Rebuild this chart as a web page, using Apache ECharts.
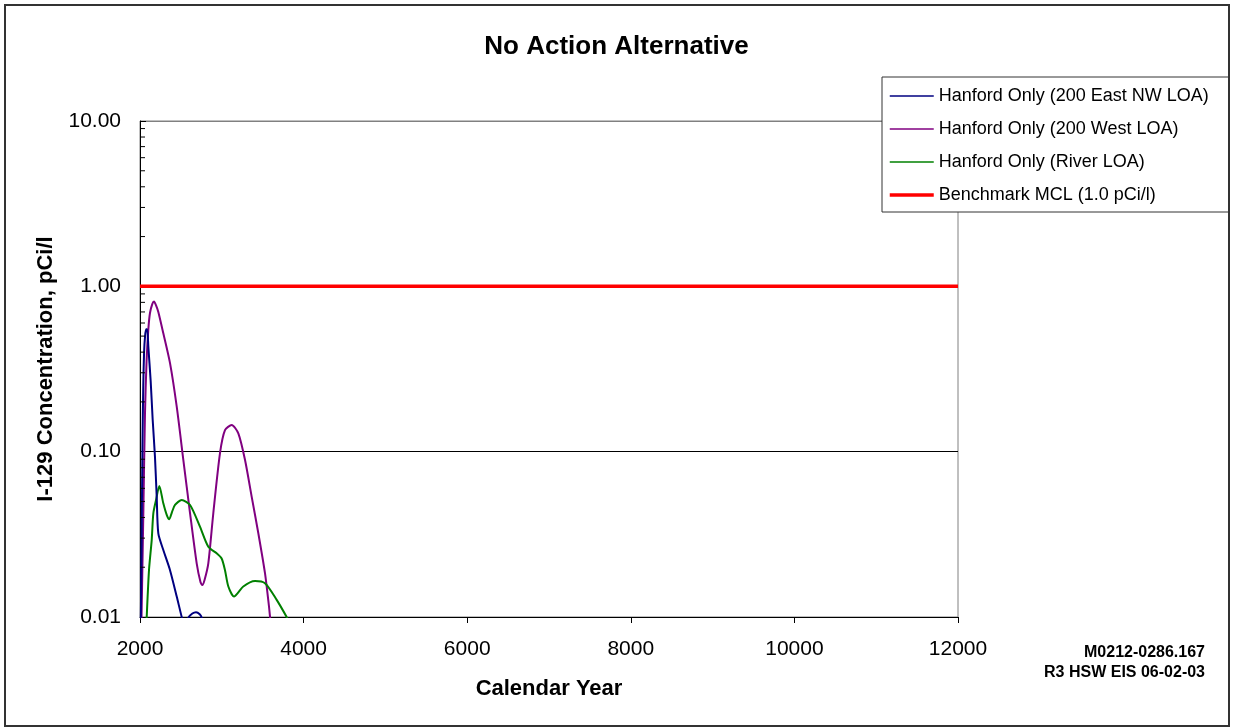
<!DOCTYPE html>
<html>
<head>
<meta charset="utf-8">
<script src="https://cdn.jsdelivr.net/npm/echarts@6/dist/echarts.min.js"></script>
<style>
html,body{margin:0;padding:0;background:#fff;}
#chart{width:1233px;height:728px;}
</style>
</head>
<body>
<div id="chart"></div>
<script>
// ---- Data ----
const titleText = 'No Action Alternative';
const seriesNames = [
  'Hanford Only (200 East NW LOA)',
  'Hanford Only (200 West LOA)',
  'Hanford Only (River LOA)',
  'Benchmark MCL (1.0 pCi/l)'
];
const xTickValues = [2000, 4000, 6000, 8000, 10000, 12000];
const yTickValues = [0.01, 0.1, 1, 10];
const minorTickValues = [0.02,0.03,0.04,0.05,0.06,0.07,0.08,0.09,
                         0.2,0.3,0.4,0.5,0.6,0.7,0.8,0.9,
                         2,3,4,5,6,7,8,9];

const eastNW = [
  [2008,0.008],[2012,0.012],[2020,0.03],[2030,0.11],[2040,0.25],[2050,0.40],[2062,0.50],[2075,0.55],[2088,0.55],
  [2102,0.43],[2130,0.27],[2155,0.156],[2183,0.093],[2204,0.0535],[2224,0.032],
  [2285,0.0254],[2367,0.0192],[2449,0.0133],[2510,0.0100],[2550,0.0085],
  [2590,0.0099],[2640,0.0105],[2685,0.0107],[2730,0.0104],[2755,0.0099],[2800,0.008],[2850,0.006]
];
const west200 = [
  [2015,0.008],[2025,0.015],[2041,0.043],[2061,0.171],[2080,0.35],[2102,0.55],[2122,0.69],
  [2150,0.78],[2171,0.81],[2195,0.77],[2224,0.70],[2285,0.52],[2367,0.343],[2449,0.187],
  [2530,0.089],[2612,0.0424],[2693,0.0211],[2740,0.0162],[2762,0.0156],[2790,0.0168],
  [2835,0.0211],[2896,0.0424],[2978,0.098],[3039,0.135],[3121,0.145],[3202,0.129],
  [3284,0.089],[3365,0.0535],[3447,0.032],[3528,0.0184],[3575,0.0118],[3600,0.009],[3650,0.006]
];
const river = [
  [2075,0.008],[2082,0.010],[2110,0.0192],[2143,0.0292],[2163,0.0424],[2196,0.051],
  [2236,0.062],[2285,0.0487],[2330,0.041],[2358,0.039],[2390,0.043],[2428,0.0476],
  [2510,0.051],[2612,0.0476],[2733,0.0352],[2835,0.0266],[2937,0.0243],[2998,0.0226],
  [3039,0.0192],[3080,0.0153],[3149,0.0133],[3263,0.0153],[3406,0.0165],[3528,0.0160],
  [3671,0.0127],[3793,0.0100],[3850,0.0088]
];
const mcl = [[2000,1.0],[12000,1.0]];
const noteLines = ['M0212-0286.167', 'R3 HSW EIS 06-02-03'];

// ---- Chart ----
const chart = echarts.init(document.getElementById('chart'), null, {renderer:'canvas'});
const FONT = '"Liberation Sans", Arial, Helvetica, sans-serif';

const option = {
  backgroundColor: '#fff',
  animation: false,
  textStyle: {fontFamily: FONT},
  title: {
    text: titleText, left: 'center', top: 29,
    textStyle: {fontFamily: FONT, fontSize: 26, fontWeight: 'bold', color: '#000'}
  },
  grid: {
    left: 140, top: 121, width: 818, height: 496,
    show: true, borderColor: '#808080', borderWidth: 1, backgroundColor: 'transparent'
  },
  legend: {
    data: seriesNames.map((n, i) => ({name: n, lineStyle: {width: i === 3 ? 3.5 : 1.5}})),
    orient: 'vertical', left: 882, top: 77,
    padding: [10, 20, 8, 6],
    itemWidth: 44, itemHeight: 14, itemGap: 15,
    borderColor: '#333', borderWidth: 1, backgroundColor: '#fff',
    itemStyle: {opacity: 0},
    textStyle: {fontFamily: FONT, fontSize: 18, color: '#000'}
  },
  xAxis: {
    type: 'value', min: 2000, max: 12000, interval: 2000,
    axisLine: {show: true, onZero: false, lineStyle: {color: '#000', width: 1}},
    axisTick: {show: true, inside: false, length: 6, lineStyle: {color: '#000'}},
    axisLabel: {fontFamily: FONT, fontSize: 21, color: '#000', margin: 22,
      formatter: v => xTickValues.includes(v) ? String(v) : ''},
    splitLine: {show: false},
    name: 'Calendar Year', nameLocation: 'middle', nameGap: 61,
    nameTextStyle: {fontFamily: FONT, fontSize: 22, fontWeight: 'bold', color: '#000'}
  },
  yAxis: {
    type: 'log', logBase: 10, min: 0.01, max: 10,
    axisLine: {show: true, onZero: false, lineStyle: {color: '#000', width: 1}},
    axisTick: {show: true, inside: true, length: 6, lineStyle: {color: '#000'}},
    axisLabel: {fontFamily: FONT, fontSize: 21, color: '#000', margin: 19,
      formatter: v => yTickValues.some(t => Math.abs(t - v) < 1e-9) ? v.toFixed(2) : ''},
    splitLine: {show: true, lineStyle: {color: ['#000','#000','#000','#808080'], width: 1}},
    name: 'I-129 Concentration, pCi/l', nameLocation: 'middle', nameGap: 83, nameRotate: 90,
    nameTextStyle: {fontFamily: FONT, fontSize: 22, fontWeight: 'bold', color: '#000'}
  },
  series: [
    {name: seriesNames[0], type: 'line', data: eastNW, symbol: 'none', smooth: 0.25,
     lineStyle: {color: '#000080', width: 2}, itemStyle: {color: '#000080'}, clip: true, z: 4},
    {name: seriesNames[1], type: 'line', data: west200, symbol: 'none', smooth: 0.25,
     lineStyle: {color: '#800080', width: 2}, itemStyle: {color: '#800080'}, clip: true, z: 3},
    {name: seriesNames[2], type: 'line', data: river, symbol: 'none', smooth: 0.25,
     lineStyle: {color: '#008000', width: 2}, itemStyle: {color: '#008000'}, clip: true, z: 3},
    {name: seriesNames[3], type: 'line', data: mcl, symbol: 'none',
     lineStyle: {color: '#ff0000', width: 3.5}, itemStyle: {color: '#ff0000'}, z: 5},
    {
      name: 'minorTicks', type: 'custom', silent: true, z: 6,
      data: minorTickValues.map(v => [2000, v]),
      renderItem: function (params, api) {
        const p = api.coord([api.value(0), api.value(1)]);
        return {type: 'line', shape: {x1: p[0], y1: p[1], x2: p[0] + 5, y2: p[1]},
                style: {stroke: '#000', lineWidth: 1}};
      }
    }
  ],
  graphic: [
    {type: 'rect', shape: {x: 5, y: 5, width: 1224, height: 721},
     style: {fill: 'none', stroke: '#333', lineWidth: 2}, silent: true, z: 100},
    {type: 'text', x: 1205, y: 643,
     style: {text: noteLines.join('\n'), font: 'bold 16px ' + FONT, fill: '#000', textAlign: 'right', textVerticalAlign: 'top', lineHeight: 20}}
  ]
};
chart.setOption(option);
</script>
</body>
</html>
